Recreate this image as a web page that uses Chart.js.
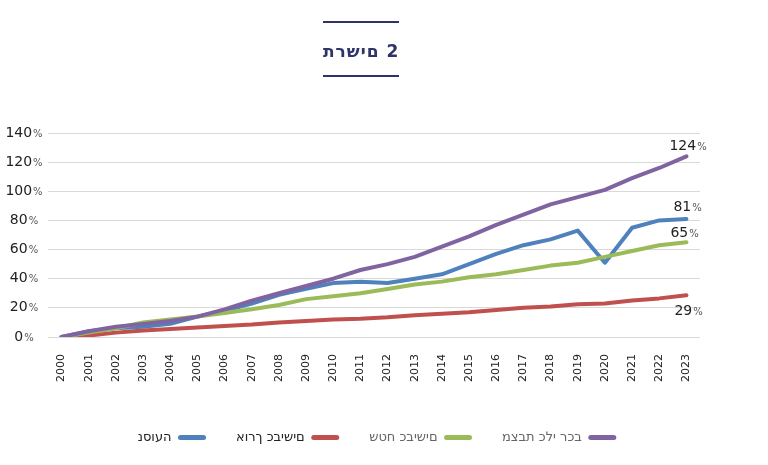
<!DOCTYPE html>
<html lang="he">
<head>
<meta charset="utf-8">
<script src="https://cdn.jsdelivr.net/npm/chart.js@4/dist/chart.umd.min.js"></script>
<style>
  html, body { margin: 0; padding: 0; background: #fff; }
  #wrap { position: relative; width: 768px; height: 465px; }
  #title {
    position: absolute; left: 323px; top: 21px; width: 76px; height: 56px;
    box-sizing: border-box;
    border-top: 2px solid #2e3468; border-bottom: 2px solid #2e3468;
    font: bold 17px "DejaVu Sans", sans-serif; color: #2e3468; letter-spacing: 1px;
    text-align: center; line-height: 56px;
    direction: ltr; unicode-bidi: bidi-override; white-space: nowrap;
  }
  canvas { position: absolute; left: 0; top: 0; }
</style>
</head>
<body>
<div id="wrap">
  <canvas id="myChart" width="768" height="465"></canvas>
  <div id="title">תרשים 2</div>
</div>
<script>
const years = ['2000','2001','2002','2003','2004','2005','2006','2007','2008','2009','2010','2011',
  '2012','2013','2014','2015','2016','2017','2018','2019','2020','2021','2022','2023'];

// מצבת כלי רכב
const vehicles = [0, 4, 7, 9, 11, 14, 19, 25, 30, 35, 40, 46, 50, 55, 62, 69, 77, 84, 91, 96, 101, 109, 116, 124];
// שטח כבישים
const roadArea = [0, 3, 6, 10, 12, 14, 16.5, 19, 22, 26, 28, 30, 33, 36, 38, 41, 43, 46, 49, 51, 55, 59, 63, 65];
// אורך כבישים
const roadLength = [0, 1, 3, 4.5, 5.5, 6.5, 7.5, 8.5, 10, 11, 12, 12.5, 13.5, 15, 16, 17, 18.5, 20, 21, 22.5, 23, 25, 26.5, 28.6];
// נסועה
const travel = [0, 4, 6, 7, 9, 14, 18, 23, 29, 33, 37, 38, 37, 40, 43, 50, 57, 63, 67, 73, 51, 75, 80, 81];

const seriesNames = ['מצבת כלי רכב', 'שטח כבישים', 'אורך כבישים', 'נסועה'];
const yTicks = [0, 20, 40, 60, 80, 100, 120, 140];

// the source prints hebrew in left-to-right glyph order, keep that look
const ltr = s => '\u202D' + s + '\u202C';

// label position next to the last point of each series: [dx, dy]
const endLabelOffsets = [[-17, -10], [-16, -9], [-12, 16], [-13, -12]];

function drawPercent(ctx, num, x, y, big, align) {
  ctx.font = big + 'px "DejaVu Sans"';
  const w1 = ctx.measureText(num).width;
  ctx.font = '10px "DejaVu Sans"';
  const w2 = ctx.measureText('%').width;
  const x0 = align === 'center' ? x - (w1 + 1 + w2) / 2 : x;
  ctx.textAlign = 'left';
  ctx.textBaseline = 'middle';
  ctx.font = big + 'px "DejaVu Sans"';
  ctx.fillStyle = '#222';
  ctx.fillText(num, x0, y);
  ctx.font = '10px "DejaVu Sans"';
  ctx.fillStyle = '#555';
  ctx.fillText('%', x0 + w1 + 1, y + 1);
}

const percentLabels = {
  id: 'percentLabels',
  afterDraw(chart) {
    const ctx = chart.ctx;
    ctx.save();
    const yScale = chart.scales.y;
    yTicks.forEach(v => drawPercent(ctx, String(v), 24, yScale.getPixelForValue(v), 14, 'center'));
    chart.data.datasets.forEach((ds, i) => {
      const meta = chart.getDatasetMeta(i);
      const pt = meta.data[meta.data.length - 1];
      const num = String(Math.round(ds.data[ds.data.length - 1]));
      drawPercent(ctx, num, pt.x + endLabelOffsets[i][0], pt.y + endLabelOffsets[i][1], 14, 'left');
    });
    ctx.restore();
  }
};

// move the legend a bit to the right, as in the source
const legendShift = {
  id: 'legendShift',
  afterLayout(chart) {
    chart.legend.left += 27;
    chart.legend.right += 27;
  }
};

const ctx = document.getElementById('myChart').getContext('2d');
const myChart = new Chart(ctx, {
  type: 'line',
  data: {
    labels: years,
    datasets: [
      { label: ltr(seriesNames[0]), data: vehicles, borderColor: '#8064a2', backgroundColor: '#8064a2' },
      { label: ltr(seriesNames[1]), data: roadArea, borderColor: '#9bbb59', backgroundColor: '#9bbb59' },
      { label: ltr(seriesNames[2]), data: roadLength, borderColor: '#c0504d', backgroundColor: '#c0504d' },
      { label: ltr(seriesNames[3]), data: travel, borderColor: '#4f81bd', backgroundColor: '#4f81bd' },
    ],
  },
  options: {
    responsive: false,
    animation: false,
    layout: { padding: { top: 133, right: 68, bottom: 11, left: 0 } },
    elements: {
      line: { borderWidth: 4, tension: 0, borderCapStyle: 'round', borderJoinStyle: 'round' },
      point: { radius: 0 },
    },
    scales: {
      x: {
        offset: true,
        grid: { display: false },
        border: { display: false },
        ticks: {
          autoSkip: false, minRotation: 90, maxRotation: 90, padding: 9,
          color: '#222', font: { family: 'DejaVu Sans', size: 11 },
        },
        afterFit(scale) { scale.height = 64; },
      },
      y: {
        min: 0, max: 140,
        afterBuildTicks(scale) { scale.ticks = yTicks.map(v => ({ value: v })); },
        grid: { color: '#d9d9d9', lineWidth: 1, drawTicks: false },
        border: { display: false },
        ticks: { display: false },
        afterFit(scale) { scale.width = 48; },
      },
    },
    plugins: {
      tooltip: { enabled: false },
      legend: {
        position: 'bottom',
        rtl: true,
        textDirection: 'ltr',
        labels: {
          boxWidth: 28, boxHeight: 5, padding: 30,
          font: { family: 'DejaVu Sans', size: 13 },
          generateLabels(chart) {
            const items = Chart.defaults.plugins.legend.labels.generateLabels(chart);
            const colors = ['#666', '#666', '#222', '#222'];
            return items.map((it, i) => Object.assign(it, {
              lineWidth: 0, borderRadius: 2.5, fontColor: colors[i],
            }));
          },
        },
      },
    },
  },
  plugins: [percentLabels, legendShift],
});
</script>
</body>
</html>
